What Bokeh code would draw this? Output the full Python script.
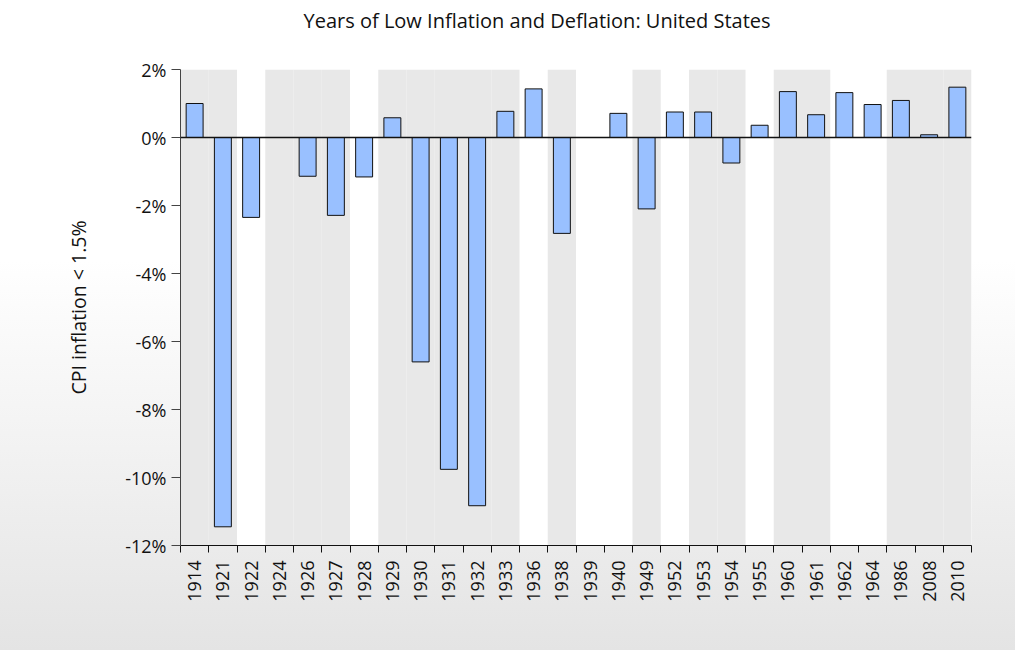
from bokeh.plotting import figure
from bokeh.models import ColumnDataSource, FixedTicker, PrintfTickFormatter, Span, Range1d, Title
from bokeh.embed import file_html
from bokeh.resources import INLINE
import math

years = ["1914", "1921", "1922", "1924", "1926", "1927", "1928", "1929", "1930", "1931",
         "1932", "1933", "1936", "1938", "1939", "1940", "1949", "1952", "1953", "1954",
         "1955", "1960", "1961", "1962", "1964", "1986", "2008", "2010"]
inflation = [1.0, -11.45, -2.35, 0.0, -1.14, -2.29, -1.16, 0.58, -6.6, -9.76,
             -10.83, 0.77, 1.43, -2.82, 0.0, 0.71, -2.1, 0.75, 0.75, -0.75,
             0.36, 1.35, 0.67, 1.32, 0.97, 1.09, 0.08, 1.48]
shaded = [1, 1, 0, 1, 1, 1, 0, 1, 1, 1,
          1, 1, 0, 1, 0, 0, 1, 0, 1, 1,
          0, 1, 1, 0, 0, 1, 1, 1]
y_ticks = [-12, -10, -8, -6, -4, -2, 0, 2]

FONT = "Open Sans"
n = len(years)
centers = [i + 0.5 for i in range(n)]

src = ColumnDataSource(dict(x=[c for c, v in zip(centers, inflation) if v != 0],
                            y=[v for v in inflation if v != 0]))
band_src = ColumnDataSource(dict(x=[c for c, s in zip(centers, shaded) if s]))

p = figure(width=1015, height=650, output_backend="svg", toolbar_location=None,
           x_range=Range1d(0, n), y_range=Range1d(y_ticks[0], y_ticks[-1]),
           min_border_left=180, min_border_right=44, min_border_bottom=105, min_border_top=0,
           title="Years of Low Inflation and Deflation: United States")

p.border_fill_alpha = 0
p.background_fill_color = "white"
p.outline_line_color = None
p.styles = {"background": "linear-gradient(to bottom, #ffffff 0%, #ffffff 40%, #e4e4e4 100%)"}

p.title.text_font = FONT
p.title.text_font_size = "20px"
p.title.text_font_style = "normal"
p.title.text_color = "#111111"
p.title.align = "left"
p.title.offset = 123
p.title.standoff = 8

spacer = Title(text=" ", text_font=FONT, text_font_size="20px", standoff=3)
p.add_layout(spacer, "above")

p.vbar(x="x", top=y_ticks[-1], bottom=y_ticks[0], width=1.0, source=band_src,
       fill_color="#e8e8e8", line_color=None)

p.vbar(x="x", top="y", bottom=0, width=0.6, source=src,
       fill_color="#99c0ff", line_color="#111111", line_width=1)

p.add_layout(Span(location=0, dimension="width", line_color="#111111", line_width=1.5))

p.xgrid.visible = False
p.ygrid.visible = False

xa = p.xaxis[0]
xa.ticker = FixedTicker(ticks=centers, minor_ticks=list(range(n + 1)))
xa.major_label_overrides = {c: y for c, y in zip(centers, years)}
xa.major_tick_out = 0
xa.major_tick_in = 0
xa.minor_tick_out = 7
xa.minor_tick_in = 0
xa.minor_tick_line_color = "#111111"
xa.axis_line_color = "#111111"
xa.major_label_orientation = math.pi / 2
xa.major_label_text_font = FONT
xa.major_label_text_font_size = "18px"
xa.major_label_text_color = "#111111"
xa.major_label_standoff = 8

ya = p.yaxis[0]
ya.ticker = FixedTicker(ticks=y_ticks, minor_ticks=[])
ya.formatter = PrintfTickFormatter(format="%d%%")
ya.major_tick_out = 9
ya.major_tick_in = 0
ya.major_tick_line_color = "#444444"
ya.axis_line_color = "#444444"
ya.major_label_text_font = FONT
ya.major_label_text_font_size = "18px"
ya.major_label_text_color = "#111111"
ya.major_label_standoff = 5
ya.axis_label = "CPI inflation < 1.5%"
ya.axis_label_text_font = FONT
ya.axis_label_text_font_size = "19.5px"
ya.axis_label_text_font_style = "normal"
ya.axis_label_text_color = "#111111"
ya.axis_label_standoff = 30

open("out.html", "w").write(file_html(p, INLINE))
